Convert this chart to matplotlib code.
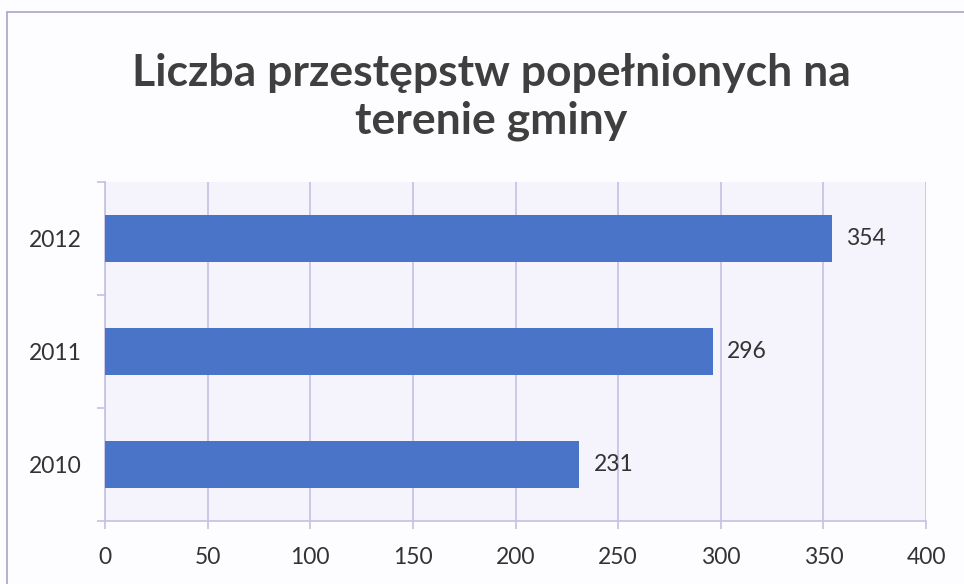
import matplotlib
matplotlib.use("Agg")
import matplotlib.pyplot as plt
from matplotlib.patches import Rectangle

years = ["2010", "2011", "2012"]
values = [231, 296, 354]
xticks = [0, 50, 100, 150, 200, 250, 300, 350, 400]
title = "Liczba przestępstw popełnionych na\nterenie gminy"

fig = plt.figure(figsize=(9.64, 5.84), dpi=100)
fig.patch.set_facecolor("#fdfcfe")

# outer chart border
fig.add_artist(Rectangle((7/964, -0.05), 1.2, (584-12)/584 + 0.05, transform=fig.transFigure,
                         fill=False, edgecolor="#a8a4c8", linewidth=1.2))

ax = fig.add_axes([105/964, 1-521/584, (926-105)/964, (521-182)/584])
ax.set_facecolor("#f5f3fb")
pos = range(len(years))
ax.barh(pos, values, height=0.41, color="#4a74c8", zorder=3)
ax.set_xlim(0, 400)
ax.set_ylim(-0.5, 2.5)
ax.set_xticks(xticks)
ax.set_xticklabels([str(v) for v in xticks], fontsize=16.5, color="#333333", family="Lato")
ax.set_yticks(list(pos))
ax.set_yticklabels(years, fontsize=16.5, color="#333333", family="Lato")
ax.set_yticks([-0.5, 0.5, 1.5, 2.5], minor=True)
ax.tick_params(axis="y", which="major", length=0, pad=17)
ax.tick_params(axis="y", which="minor", length=6, color="#c4c0e4", width=1.2)
ax.tick_params(axis="x", which="major", length=6, color="#c4c0e4", width=1.2, pad=13)
ax.grid(axis="x", color="#c4c0e4", linewidth=1.2, zorder=0)
for s in ["top", "right"]:
    ax.spines[s].set_visible(False)
ax.spines["left"].set_color("#c4c0e4")
ax.spines["bottom"].set_color("#c4c0e4")
ax.spines["left"].set_linewidth(1.2)
ax.spines["bottom"].set_linewidth(1.2)

for p, v in zip(pos, values):
    ax.text(v + 7, p, str(v), va="center", ha="left", fontsize=16.5, color="#333333", family="Lato")

fig.text(491/964, 1-97/584, title, ha="center", va="center", fontsize=32,
         fontweight="bold", color="#3f3f3f", family="Lato", linespacing=1.25)

fig.savefig("out.png", dpi=100, facecolor=fig.get_facecolor())
